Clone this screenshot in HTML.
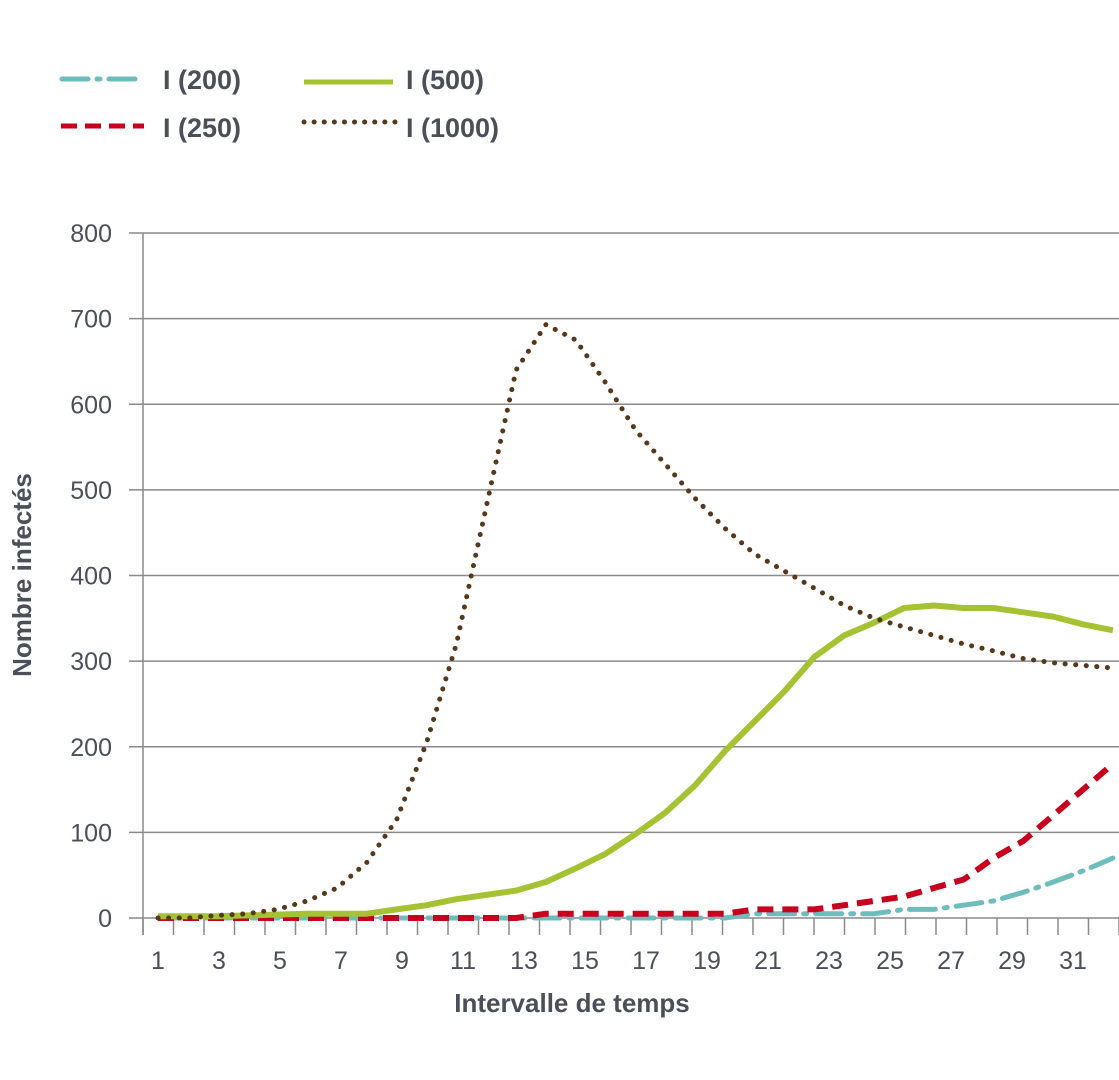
<!DOCTYPE html>
<html><head><meta charset="utf-8"><style>
html,body{margin:0;padding:0;background:#fff;}
svg{display:block;font-family:"Liberation Sans",sans-serif;}
</style></head><body>
<svg width="1119" height="1080" viewBox="0 0 1119 1080" xmlns="http://www.w3.org/2000/svg">
<g id="grid" stroke="#8a8a8a" stroke-width="1.5"></g>
<g id="ylab" fill="#4a4f5a" font-size="25" text-anchor="end"></g>
<g id="xlab" fill="#4a4f5a" font-size="25" text-anchor="middle"></g>
<line x1="143" y1="233" x2="143" y2="935" stroke="#8a8a8a" stroke-width="1.5"/>
<text x="572" y="1012" fill="#4a4f5a" font-size="26" font-weight="bold" text-anchor="middle">Intervalle de temps</text>
<text transform="translate(31,575) rotate(-90)" fill="#4a4f5a" font-size="26" font-weight="bold" text-anchor="middle">Nombre infectés</text>
<g id="series" fill="none"></g>
<!-- legend -->
<line x1="62" y1="79" x2="142" y2="79" stroke="#6fbcbc" stroke-width="5" stroke-linecap="round" stroke-dasharray="26 9 3 9"/>
<text x="163" y="89" fill="#4a4f5a" font-size="27" font-weight="bold">I (200)</text>
<line x1="304" y1="82" x2="393" y2="82" stroke="#a5c232" stroke-width="5"/>
<text x="406" y="89" fill="#4a4f5a" font-size="27" font-weight="bold">I (500)</text>
<line x1="61" y1="126" x2="144" y2="126" stroke="#c8001e" stroke-width="5" stroke-dasharray="16 8"/>
<text x="163" y="137" fill="#4a4f5a" font-size="27" font-weight="bold">I (250)</text>
<line x1="304" y1="122" x2="396" y2="122" stroke="#55391c" stroke-width="5" stroke-linecap="round" stroke-dasharray="0.1 10"/>
<text x="406" y="137" fill="#4a4f5a" font-size="27" font-weight="bold">I (1000)</text>
<script>
const ns="http://www.w3.org/2000/svg";
function el(p,t,a,txt){const e=document.createElementNS(ns,t);for(const k in a)e.setAttribute(k,a[k]);if(txt!=null)e.textContent=txt;document.getElementById(p).appendChild(e);}
const Y=v=>918-v*0.85625;
for(let v=0;v<=800;v+=100){el('grid','line',{x1:129,x2:1119,y1:Y(v),y2:Y(v)});el('ylab','text',{x:112,y:Y(v)+9},v);}
for(let k=0;k<=32;k++){const x=143+k*30.5;el('grid','line',{x1:x,x2:x,y1:918,y2:935});}
for(let k=1;k<=31;k+=2){el('xlab','text',{x:158+(k-1)*30.5,y:969},k);}
const X=i=>158+i*29.84;
const d1000=[0,0,3,5,10,20,35,65,115,205,320,480,640,693,675,625,570,530,490,455,425,405,385,365,350,340,330,320,312,303,298,295,292];
const d500=[2,2,2,3,4,5,5,5,10,15,22,27,32,42,58,75,98,123,155,195,230,265,305,330,345,362,365,362,362,357,352,343,336];
const d250=[0,0,0,0,0,0,0,0,0,0,0,0,0,5,5,5,5,5,5,5,10,10,10,15,20,25,35,45,70,90,120,150,180];
const d200=[0,0,0,0,0,0,0,0,0,0,0,0,0,0,0,0,0,0,0,0,5,5,5,5,5,10,10,15,20,30,42,55,70];
const pts=d=>d.map((v,i)=>X(i).toFixed(1)+','+Y(v).toFixed(1)).join(' ');
el('series','polyline',{points:pts(d200),stroke:'#6fbcbc','stroke-width':5,'stroke-linecap':'round','stroke-linejoin':'round','stroke-dasharray':'26 9 3 9'});
el('series','polyline',{points:pts(d250),stroke:'#c8001e','stroke-width':6,'stroke-linejoin':'round','stroke-dasharray':'16 9'});
el('series','polyline',{points:pts(d500),stroke:'#a5c232','stroke-width':6,'stroke-linejoin':'round'});
el('series','polyline',{points:pts(d1000),stroke:'#55391c','stroke-width':5,'stroke-linecap':'round','stroke-linejoin':'round','stroke-dasharray':'0.1 10.5'});
</script>
</svg>
</body></html>
